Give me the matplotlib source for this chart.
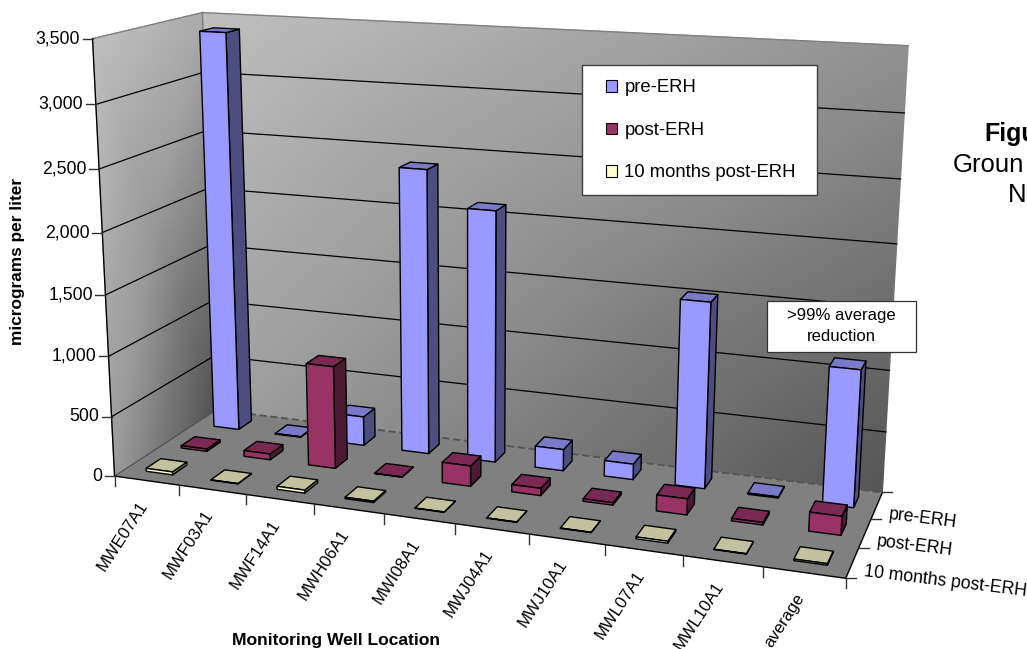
import numpy as np
import matplotlib
matplotlib.use("Agg")
import matplotlib.pyplot as plt
from matplotlib.patches import Polygon, Patch, Rectangle

plt.rcParams['font.family'] = ['Liberation Sans', 'DejaVu Sans']

# ---- data -------------------------------------------------------------
wells = ['MWE07A1', 'MWF03A1', 'MWF14A1', 'MWH06A1', 'MWI08A1',
         'MWJ04A1', 'MWJ10A1', 'MWL07A1', 'MWL10A1', 'average']
series_names = ['pre-ERH', 'post-ERH', '10 months post-ERH']
pre_erh = [3400, 5, 250, 2390, 2100, 180, 130, 1520, 10, 1105]
post_erh = [20, 50, 860, 3, 170, 60, 20, 130, 20, 150]
months10 = [25, 3, 25, 12, 3, 3, 3, 15, 3, 12]
value_ticks = [0, 500, 1000, 1500, 2000, 2500, 3000, 3500]
value_max = 3500

# ---- oblique projection: (category, depth, value) in unit cube -> pixels ----
anchors_3d = np.array([[0, 0, 0], [1, 0, 0], [1, 1, 0], [0, 1, 0],
                       [0, 0, 1], [0, 1, 1], [1, 1, 1]], float)
anchors_px = np.array([[116, 474.3], [845.7, 580], [882.7, 490.7], [215, 411.7],
                       [91, 39], [204, 12], [908, 46]], float)
rows = []
rhs = []
for (x, d, z), (u, v) in zip(anchors_3d, anchors_px):
    rows.append([x, d, z, 1, 0, 0, 0, 0, -u * x, -u * d, -u * z])
    rhs.append(u)
    rows.append([0, 0, 0, 0, x, d, z, 1, -v * x, -v * d, -v * z])
    rhs.append(v)
coef = np.linalg.lstsq(np.array(rows), np.array(rhs), rcond=None)[0]
P = np.append(coef, 1.0).reshape(3, 4)


def proj(x, d, z):
    h = P @ np.array([x, d, z, 1.0])
    return h[0] / h[2], h[1] / h[2]


def quad(pts, **kw):
    ax.add_patch(Polygon([proj(*p) for p in pts], closed=True, **kw))


def shaded_wall(corners, levels):
    # corners: 2x2 unit-cube points, levels: 2x2 grey values
    xy = np.array([[proj(*p) for p in row] for row in corners])
    ax.pcolormesh(xy[..., 0], xy[..., 1], np.array(levels, float), shading='gouraud',
                  cmap='gray', vmin=0, vmax=255, zorder=1, rasterized=True)


fig = plt.figure(figsize=(10.27, 6.49), dpi=100)
ax = fig.add_axes([0, 0, 1, 1])
ax.set_xlim(0, 1027)
ax.set_ylim(649, 0)
ax.axis('off')

# ---- walls and floor ----------------------------------------------------
shaded_wall([[(0, 1, 1), (1, 1, 1)], [(0, 1, 0), (1, 1, 0)]], [[192, 145], [160, 85]])
shaded_wall([[(0, 0, 1), (0, 1, 1)], [(0, 0, 0), (0, 1, 0)]], [[192, 172], [155, 80]])
quad([(0, 0, 0), (1, 0, 0), (1, 1, 0), (0, 1, 0)], fc='#808080', ec='none', zorder=2)

for px, qx in [((0, 0, 1), (0, 1, 1)), ((0, 1, 1), (1, 1, 1)), ((0, 1, 0), (0, 1, 1))]:
    a, b = proj(*px), proj(*qx)
    ax.plot([a[0], b[0]], [a[1], b[1]], color='#808080', lw=1.0, zorder=2.1)

# gridlines on both walls
for v in value_ticks[1:-1]:
    z = v / value_max
    pts = [proj(0, 0, z), proj(0, 1, z), proj(1, 1, z)]
    ax.plot(*zip(*pts), color='black', lw=0.9, zorder=2.2)
a, b = proj(0, 1, 0), proj(1, 1, 0)
ax.plot([a[0], b[0]], [a[1], b[1]], color='#555555', lw=1.3, ls=(0, (4, 2)), zorder=2.2)
a, b = proj(0, 0, 0), proj(0, 1, 0)
ax.plot([a[0], b[0]], [a[1], b[1]], color='#505050', lw=0.8, zorder=2.2)

# axis lines and tick marks
a, b = proj(0, 0, 0), proj(0, 0, 1)
ax.plot([a[0], b[0]], [a[1], b[1]], color='black', lw=1.0, zorder=2.3)
a, b = proj(0, 0, 0), proj(1, 0, 0)
ax.plot([a[0], b[0]], [a[1], b[1]], color='black', lw=1.0, zorder=2.3)
a, b = proj(1, 0, 0), proj(1, 1, 0)
ax.plot([a[0], b[0]], [a[1], b[1]], color='black', lw=1.0, zorder=2.3)

for v in value_ticks:
    u, w = proj(0, 0, v / value_max)
    ax.plot([u - 10, u], [w, w], color='#333333', lw=1.0, zorder=2.3)
    ax.text(u - 12.5, w, f'{v:,}', ha='right', va='center', fontsize=12.7, color='black')

n_cat = len(wells)
for k in range(n_cat + 1):
    u, w = proj(k / n_cat, 0, 0)
    ax.plot([u, u], [w, w + 10], color='#333333', lw=1.0, zorder=2.3)
for k, name in enumerate(wells):
    u, w = proj((k + 0.5) / n_cat, 0, 0)
    ax.text(u - 9, w + 18, name, rotation=57, rotation_mode='anchor',
            ha='right', va='top', fontsize=12, color='black')

n_ser = len(series_names)
for j in range(n_ser + 1):
    u, w = proj(1, j / n_ser, 0)
    ax.plot([u, u + 10], [w, w], color='#333333', lw=1.0, zorder=2.3)
# series labels follow the right floor edge, nearest row first
for j, name in enumerate(series_names[::-1]):
    u, w = proj(1, (j + 0.5) / n_ser, 0)
    ax.text(u + 12, w + 9, name, rotation=-7, rotation_mode='anchor',
            ha='left', va='center', fontsize=12.7, color='black')

# ---- bars ---------------------------------------------------------------
face_colors = ['#9999ff', '#993366', '#ffffcc']
top_colors = ['#7a7ac8', '#7a2952', '#c2c29e']
side_colors = ['#4d4d80', '#4d1a33', '#808066']
all_series = [pre_erh, post_erh, months10]
bar_w = 0.41
bar_d = 0.41
shift_x = 0.02
shift_d = 0.02
for s, values in enumerate(all_series):
    j = n_ser - 1 - s
    d0 = (j + shift_d + (1 - bar_d) / 2) / n_ser
    d1 = (j + shift_d + (1 + bar_d) / 2) / n_ser
    for k, val in enumerate(values):
        x0 = (k + shift_x + (1 - bar_w) / 2) / n_cat
        x1 = (k + shift_x + (1 + bar_w) / 2) / n_cat
        z = val / value_max
        kw = dict(ec='black', lw=1.0, joinstyle='round', zorder=3 + s + k * 0.01)
        quad([(x1, d0, 0), (x1, d1, 0), (x1, d1, z), (x1, d0, z)], fc=side_colors[s], **kw)
        quad([(x0, d0, z), (x1, d0, z), (x1, d1, z), (x0, d1, z)], fc=top_colors[s], **kw)
        quad([(x0, d0, 0), (x1, d0, 0), (x1, d0, z), (x0, d0, z)], fc=face_colors[s], **kw)

# ---- legend and annotation ----------------------------------------------
ax.add_patch(Rectangle((581.5, 65), 235.5, 130, fc='white', ec='#404040', lw=1.0, zorder=19))
handles = [Patch(fc=c, ec='black', lw=0.8) for c in face_colors]
leg = ax.legend(handles, series_names, loc='upper left', bbox_to_anchor=(606, 79.5),
                bbox_transform=ax.transData, fontsize=13.3, frameon=False,
                borderaxespad=0, borderpad=0, labelspacing=1.38,
                handlelength=0.6, handleheight=0.6, handletextpad=0.4)
leg.set_zorder(20)

ax.add_patch(Rectangle((767, 301), 148.5, 51, fc='white', ec='#333333', lw=0.9, zorder=20))
ax.text(841, 326, '>99% average\nreduction', ha='center', va='center', fontsize=12,
        linespacing=1.55, zorder=21)

# ---- axis titles and side caption ---------------------------------------
ax.text(18, 261.5, 'micrograms per liter', rotation=90, ha='center', va='center',
        fontsize=12.4, fontweight='bold')
ax.text(336, 640, 'Monitoring Well Location', ha='center', va='center',
        fontsize=12.6, fontweight='bold')
ax.text(984, 134, 'Figu', ha='left', va='center', fontsize=18, fontweight='bold')
ax.text(953, 165, 'Groun', ha='left', va='center', fontsize=18.5)
ax.text(1008, 195, 'N', ha='left', va='center', fontsize=18.5)

fig.savefig('out.png', dpi=100)
